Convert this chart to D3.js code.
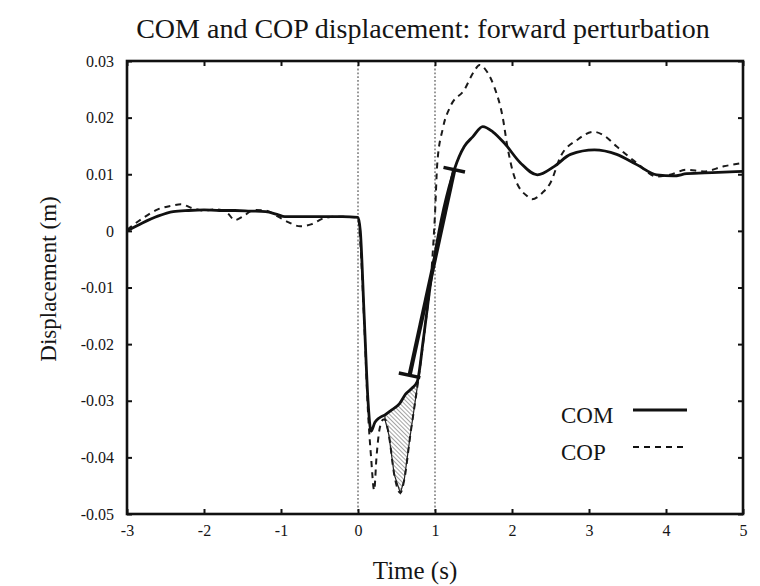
<!DOCTYPE html>
<html><head><meta charset="utf-8">
<script src="https://cdn.jsdelivr.net/npm/d3@7"></script>
<style>
body{margin:0;background:#fff}
svg{display:block}
svg text{font-family:"Liberation Serif","DejaVu Serif","Times New Roman",serif !important;fill:#151515}
</style>
</head><body>
<svg id="chart" width="760" height="586"></svg>
<script>
// ---- data ----
const comTime  = [-3,-2.8,-2.6,-2.4,-2.2,-2.0,-1.8,-1.6,-1.4,-1.2,-1.05,-0.95,-0.8,-0.5,-0.2,0.0,0.03,0.08,0.13,0.17,0.22,0.28,0.35,0.43,0.54,0.62,0.70,0.77,0.85,0.95,1.25,1.38,1.49,1.62,1.75,1.9,2.11,2.33,2.55,2.76,3.07,3.36,3.62,3.88,4.1,4.27,4.6,5.0];
const comValue = [0,0.0014,0.0026,0.0034,0.0036,0.0037,0.0036,0.0036,0.0035,0.0034,0.0029,0.0025,0.0025,0.0025,0.0025,0.0024,0.0,-0.015,-0.030,-0.0354,-0.0338,-0.0330,-0.0325,-0.0317,-0.0305,-0.0288,-0.0278,-0.0266,-0.019,-0.0085,0.0108,0.0149,0.0166,0.0184,0.0175,0.0155,0.0120,0.0099,0.0114,0.0135,0.0143,0.0135,0.0117,0.0099,0.0097,0.0101,0.0103,0.0105];

const copTime  = [-3,-2.8,-2.6,-2.4,-2.3,-2.15,-2.0,-1.85,-1.7,-1.6,-1.5,-1.35,-1.2,-1.05,-0.9,-0.75,-0.6,-0.45,-0.3,0.0,0.03,0.08,0.13,0.17,0.21,0.24,0.28,0.33,0.35,0.40,0.47,0.55,0.60,0.68,0.78,0.88,0.96,1.0,1.03,1.1,1.2,1.38,1.5,1.58,1.68,1.77,1.88,1.94,2.03,2.2,2.26,2.4,2.5,2.63,2.85,3.06,3.2,3.36,3.62,3.88,4.05,4.27,4.49,4.75,5.0];
const copValue = [0.0002,0.0022,0.0038,0.0045,0.0047,0.0040,0.0036,0.0038,0.0032,0.0019,0.0025,0.0037,0.0036,0.0026,0.0015,0.0008,0.0012,0.0022,0.0025,0.0024,-0.002,-0.016,-0.032,-0.040,-0.0458,-0.040,-0.035,-0.0333,-0.0333,-0.036,-0.043,-0.0463,-0.044,-0.036,-0.0266,-0.016,-0.006,0.003,0.012,0.018,0.022,0.0249,0.028,0.0293,0.028,0.0254,0.020,0.0149,0.0096,0.0061,0.0056,0.0068,0.0085,0.0131,0.0161,0.0175,0.0168,0.0149,0.0120,0.0096,0.0099,0.0108,0.0105,0.0114,0.0120];

// straight-line fit annotation (time, value) endpoints
const fitTime  = [0.67, 1.25];
const fitValue = [-0.0255, 0.0108];

// shaded interval (COP below COM)
const shadeRange = [0.35, 0.78];

// perturbation markers
const markerTimes = [0, 1];

const xTicks = [-3,-2,-1,0,1,2,3,4,5];
const xTickLabels = ["-3","-2","-1","0","1","2","3","4","5"];
const yTicks = [-0.05,-0.04,-0.03,-0.02,-0.01,0,0.01,0.02,0.03];
const yTickLabels = ["-0.05","-0.04","-0.03","-0.02","-0.01","0","0.01","0.02","0.03"];

const titleText = "COM and COP displacement: forward perturbation";
const xLabel = "Time (s)";
const yLabel = "Displacement (m)";
const seriesNames = ["COM","COP"];

// ---- drawing ----
const svg = d3.select("#chart");
const L = 127, R = 743, T = 61, B = 514;
const x = d3.scaleLinear().domain([-3,5]).range([L,R]);
const y = d3.scaleLinear().domain([-0.05,0.03]).range([B,T]);

const com = comTime.map((t,i)=>({t, v: comValue[i]}));
const cop = copTime.map((t,i)=>({t, v: copValue[i]}));

const defs = svg.append("defs");
const pat = defs.append("pattern").attr("id","hatch").attr("patternUnits","userSpaceOnUse")
  .attr("width",3).attr("height",3).attr("patternTransform","rotate(-45)");
pat.append("rect").attr("width",3).attr("height",3).attr("fill","#fff");
pat.append("line").attr("x1",0).attr("y1",0).attr("x2",0).attr("y2",3)
  .attr("stroke","#666").attr("stroke-width",1.2);

// title
svg.append("text").attr("x",423).attr("y",38).attr("text-anchor","middle")
  .attr("font-size",28).text(titleText);

// axis labels
svg.append("text").attr("transform","translate(56,279) rotate(-90)")
  .attr("text-anchor","middle").attr("font-size",23).text(yLabel);
svg.append("text").attr("x",415).attr("y",579).attr("text-anchor","middle")
  .attr("font-size",25).text(xLabel);

// perturbation markers
svg.append("g").selectAll("line").data(markerTimes).join("line")
  .attr("x1",d=>x(d)).attr("x2",d=>x(d)).attr("y1",T).attr("y2",B)
  .attr("stroke","#777").attr("stroke-width",1.5).attr("stroke-dasharray","1.8,2");

// shaded area between COM and COP
const copSeg = cop.filter(d=>d.t>=shadeRange[0] && d.t<=shadeRange[1]);
const comSeg = com.filter(d=>d.t>=shadeRange[0] && d.t<=shadeRange[1]).reverse();
const poly = d3.line().x(d=>x(d.t)).y(d=>y(d.v));
svg.append("path").attr("d", poly(copSeg.concat(comSeg)) + "Z")
  .attr("fill","url(#hatch)").attr("stroke","#222").attr("stroke-width",1.2);

// series
const line = d3.line().x(d=>x(d.t)).y(d=>y(d.v)).curve(d3.curveMonotoneX);
svg.append("path").datum(cop).attr("d",line).attr("fill","none")
  .attr("stroke","#1a1a1a").attr("stroke-width",2).attr("stroke-dasharray","6,5");
svg.append("path").datum(com).attr("d",line).attr("fill","none")
  .attr("stroke","#111").attr("stroke-width",2.8).attr("stroke-linejoin","round");

// fit annotation with end ticks
const fit = fitTime.map((t,i)=>({t, v: fitValue[i]}));
const p0 = [x(fit[0].t), y(fit[0].v)], p1 = [x(fit[1].t), y(fit[1].v)];
svg.append("line").attr("x1",p0[0]).attr("y1",p0[1]).attr("x2",p1[0]).attr("y2",p1[1])
  .attr("stroke","#111").attr("stroke-width",4.2);
const dx = p1[0]-p0[0], dy = p1[1]-p0[1], len = Math.hypot(dx,dy);
const nx = -dy/len, ny = dx/len, half = 11;
[p0,p1].forEach(p=>{
  svg.append("line").attr("x1",p[0]-nx*half).attr("y1",p[1]-ny*half)
    .attr("x2",p[0]+nx*half).attr("y2",p[1]+ny*half)
    .attr("stroke","#111").attr("stroke-width",3.5);
});

// axes with inward ticks
const gB = svg.append("g").attr("transform",`translate(0,${B})`)
  .call(d3.axisBottom(x).tickValues(xTicks).tickSize(-5).tickSizeOuter(0).tickPadding(11)
    .tickFormat((d,i)=>xTickLabels[i]));
const gT = svg.append("g").attr("transform",`translate(0,${T})`)
  .call(d3.axisTop(x).tickValues(xTicks).tickSize(-5).tickSizeOuter(0).tickFormat(""));
const gL = svg.append("g").attr("transform",`translate(${L},0)`)
  .call(d3.axisLeft(y).tickValues(yTicks).tickSize(-5).tickSizeOuter(0).tickPadding(13)
    .tickFormat((d,i)=>yTickLabels[i]));
const gR = svg.append("g").attr("transform",`translate(${R},0)`)
  .call(d3.axisRight(y).tickValues(yTicks).tickSize(-5).tickSizeOuter(0).tickFormat(""));
[gB,gT,gL,gR].forEach(g=>{
  g.attr("font-family",null);
  g.select(".domain").remove();
  g.selectAll(".tick line").attr("stroke","#111").attr("stroke-width",2);
  g.selectAll(".tick text").style("font-size","16px").attr("fill","#151515");
});

// frame
svg.append("rect").attr("x",L).attr("y",T).attr("width",R-L).attr("height",B-T)
  .attr("fill","none").attr("stroke","#111").attr("stroke-width",2.6);

// legend
const lg = svg.append("g");
const legY = [410, 447];
seriesNames.forEach((n,i)=>{
  lg.append("text").attr("x",561).attr("y",legY[i]+13).attr("font-size",23).text(n);
  lg.append("line").attr("x1",633).attr("x2",687).attr("y1",legY[i]).attr("y2",legY[i])
    .attr("stroke","#111").attr("stroke-width", i===0?3.2:2)
    .attr("stroke-dasharray", i===0?null:"6,5");
});
</script>
</body></html>
